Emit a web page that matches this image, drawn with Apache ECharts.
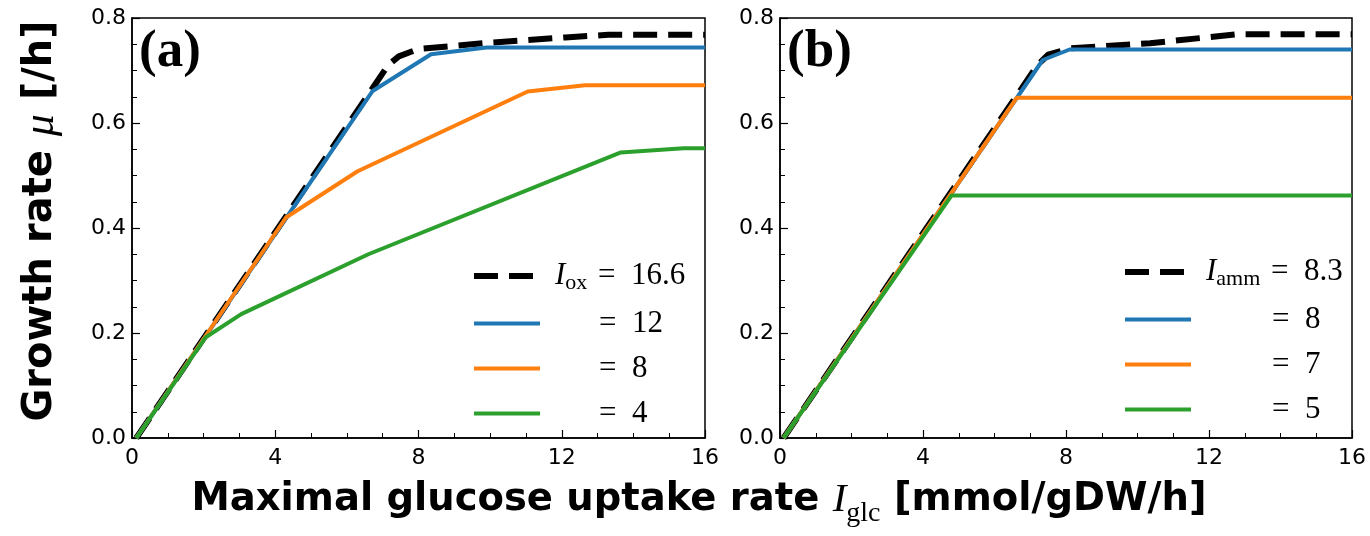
<!DOCTYPE html>
<html><head><meta charset="utf-8">
<script src="https://cdn.jsdelivr.net/npm/echarts@6/dist/echarts.min.js"></script>
<style>html,body{margin:0;padding:0;background:#fff}#chart{width:1370px;height:536px}</style>
</head><body><div id="chart"></div>
<script>
// Panel (a): growth rate vs. maximal glucose uptake for several oxygen uptake limits
const oxLabels = ['16.6', '12', '8', '4'];
const oxFull = [[0.12,0],[7.15,0.71],[7.45,0.727],[8.0,0.741],[10.0,0.753],[12.1,0.763],[13.3,0.768],[16,0.768]];
const ox12 = [[0.12,0],[6.72,0.661],[8.35,0.731],[9.9,0.744],[16,0.744]];
const ox8 = [[0.12,0],[4.3,0.42],[6.3,0.508],[11.05,0.66],[12.65,0.672],[16,0.672]];
const ox4 = [[0.12,0],[2.06,0.192],[3.05,0.236],[6.6,0.35],[13.65,0.544],[15.4,0.552],[16,0.552]];

// Panel (b): the same for several ammonium uptake limits
const ammLabels = ['8.3', '8', '7', '5'];
const ammFull = [[0.1,0],[7.2,0.71],[7.5,0.73],[8.1,0.742],[10.35,0.752],[12.8,0.769],[16,0.769]];
const amm8 = [[0.1,0],[7.35,0.72],[8.1,0.74],[16,0.74]];
const amm7 = [[0.1,0],[6.62,0.648],[16,0.648]];
const amm5 = [[0.1,0],[4.8,0.462],[16,0.462]];

const xRange = [0, 16, 4];    // min, max, major step
const yRange = [0, 0.8, 0.2];

const BLUE = '#1f77b4', ORANGE = '#ff7f0e', GREEN = '#2ca02c';
const TICK_FONT = 'DejaVu Sans';
const SERIF = 'Liberation Serif';
const TITLE_FONT = 'DejaVu Sans';

const chart = echarts.init(document.getElementById('chart'), null, {renderer: 'canvas'});

function xAxis(gridIndex) {
  return {
    type: 'value', gridIndex, min: xRange[0], max: xRange[1], interval: xRange[2],
    axisLine: {show: true, onZero: false, lineStyle: {color: '#000', width: 1.5}},
    axisTick: {show: true, inside: true, length: 8, lineStyle: {color: '#000', width: 1.2}},
    minorTick: {show: true, splitNumber: 4, length: 5, lineStyle: {color: '#000', width: 1}},
    splitLine: {show: false},
    axisLabel: {color: '#000', fontFamily: TICK_FONT, fontSize: 22, margin: 9,
      formatter: v => String(v)}
  };
}
function yAxis(gridIndex) {
  return {
    type: 'value', gridIndex, min: yRange[0], max: yRange[1], interval: yRange[2],
    axisLine: {show: true, onZero: false, lineStyle: {color: '#000', width: 1.5}},
    axisTick: {show: true, inside: true, length: 8, lineStyle: {color: '#000', width: 1.2}},
    minorTick: {show: true, splitNumber: 4, length: 5, lineStyle: {color: '#000', width: 1}},
    splitLine: {show: false},
    axisLabel: {color: '#000', fontFamily: TICK_FONT, fontSize: 22, margin: 6,
      formatter: v => v.toFixed(1)}
  };
}

function line(name, data, idx, color, dashed) {
  return {
    name, type: 'line', xAxisIndex: idx, yAxisIndex: idx, data,
    symbol: 'none', showSymbol: false, animation: false, silent: true,
    lineStyle: dashed ? {color: '#000', width: 6, type: [24, 11]} : {color, width: 4},
    itemStyle: {color: dashed ? '#000' : color}
  };
}

// Legend labels: first entry carries the symbol, the rest only "= value"
function legendFormatter(sym, labels, keys) {
  return name => {
    const i = keys.indexOf(name);
    if (i === 0) return '{g|}{i|I}{s|' + sym + '}{q|}{t| =  ' + labels[0] + '}';
    return '{g|}{p|}{t|=  ' + labels[i] + '}';
  };
}
function legendRich(padW) {
  return {
    g: {width: 10},
    q: {width: 3},
    p: {width: padW},
    i: {fontFamily: SERIF, fontStyle: 'italic', fontSize: 31, color: '#000', lineHeight: 32},
    s: {fontFamily: SERIF, fontSize: 22, color: '#000', padding: [14, 0, 0, 0], lineHeight: 20},
    t: {fontFamily: SERIF, fontSize: 31, color: '#000', lineHeight: 32}
  };
}

const oxKeys = oxLabels.map(v => 'ox ' + v);
const ammKeys = ammLabels.map(v => 'amm ' + v);
const hiddenSymbol = {color: 'transparent', borderWidth: 0, opacity: 0};

const option = {
  backgroundColor: '#fff',
  animation: false,
  grid: [
    {left: 132, top: 18, width: 573, height: 420, show: true, borderColor: '#000', borderWidth: 1.5, containLabel: false},
    {left: 780, top: 18, width: 572, height: 420, show: true, borderColor: '#000', borderWidth: 1.5, containLabel: false}
  ],
  xAxis: [xAxis(0), xAxis(1)],
  yAxis: [yAxis(0), yAxis(1)],
  legend: [
    {data: oxKeys, orient: 'vertical', left: 471, top: 258, padding: 0, itemWidth: 66, itemHeight: 14, itemGap: 14,
     lineStyle: {width: 'inherit', type: 'inherit'}, itemStyle: hiddenSymbol,
     formatter: legendFormatter('ox', oxLabels, oxKeys), textStyle: {rich: legendRich(44)},
     selectedMode: false},
    {data: ammKeys, orient: 'vertical', left: 1122, top: 254, padding: 0, itemWidth: 66, itemHeight: 14, itemGap: 14,
     lineStyle: {width: 'inherit', type: 'inherit'}, itemStyle: hiddenSymbol,
     formatter: legendFormatter('amm', ammLabels, ammKeys), textStyle: {rich: legendRich(66)},
     selectedMode: false}
  ],
  series: [
    line(oxKeys[0], oxFull, 0, '#000', true),
    line(oxKeys[1], ox12, 0, BLUE),
    line(oxKeys[2], ox8, 0, ORANGE),
    line(oxKeys[3], ox4, 0, GREEN),
    line(ammKeys[0], ammFull, 1, '#000', true),
    line(ammKeys[1], amm8, 1, BLUE),
    line(ammKeys[2], amm7, 1, ORANGE),
    line(ammKeys[3], amm5, 1, GREEN)
  ],
  graphic: [
    {type: 'text', left: 139, top: 26, style: {text: '(a)', fontFamily: SERIF, fontWeight: 'bold', fontSize: 53, fill: '#000'}},
    {type: 'text', left: 787, top: 26, style: {text: '(b)', fontFamily: SERIF, fontWeight: 'bold', fontSize: 53, fill: '#000'}},
    {type: 'text', x: 41, y: 221, rotation: Math.PI / 2,
     style: {text: '{b|Growth rate }{m|μ}{b| [/h]}', align: 'center', verticalAlign: 'middle',
       rich: {
         b: {fontFamily: TITLE_FONT, fontWeight: 'bold', fontSize: 40, fill: '#000'},
         m: {fontFamily: SERIF, fontStyle: 'italic', fontSize: 44, fill: '#000'}
       }}},
    {type: 'text', x: 699, y: 500,
     style: {text: '{b|Maximal glucose uptake rate }{i|I}{s|glc}{b| [mmol/gDW/h]}', align: 'center', verticalAlign: 'middle',
       rich: {
         b: {fontFamily: TITLE_FONT, fontWeight: 'bold', fontSize: 38.5, fill: '#000', lineHeight: 46},
         i: {fontFamily: SERIF, fontStyle: 'italic', fontSize: 41, fill: '#000', lineHeight: 46},
         s: {fontFamily: SERIF, fontSize: 28, fill: '#000', padding: [28, 0, 0, 0], lineHeight: 28}
       }}}
  ]
};
chart.setOption(option);
</script></body></html>
